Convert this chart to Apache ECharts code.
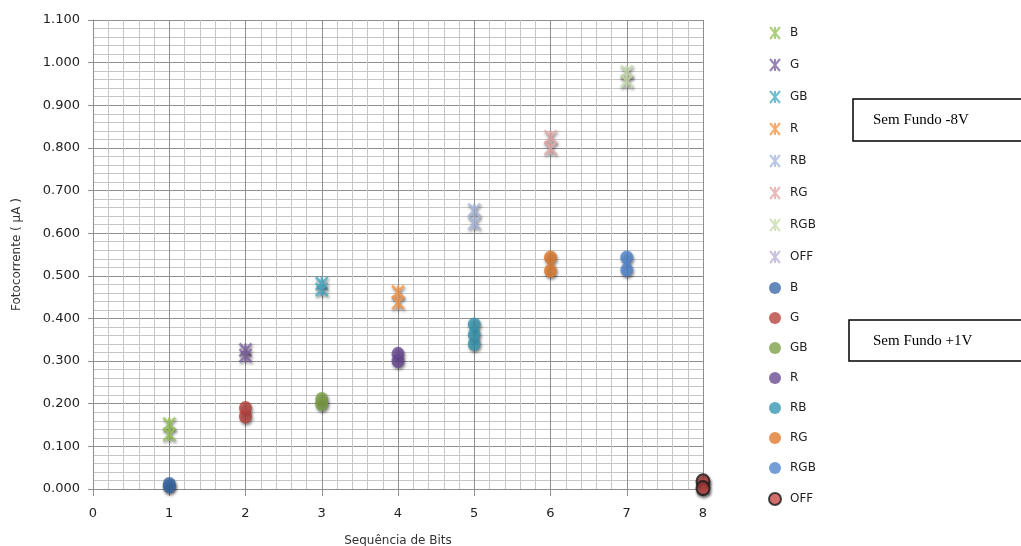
<!DOCTYPE html>
<html>
<head>
<meta charset="utf-8">
<script src="https://cdn.jsdelivr.net/npm/echarts@6/dist/echarts.min.js"></script>
<style>html,body{margin:0;padding:0;background:#fff}#c{width:1021px;height:546px}</style>
</head>
<body>
<div id="c"></div>
<script>
// ---- data ----
const categories = ['B', 'G', 'GB', 'R', 'RB', 'RG', 'RGB', 'OFF'];
const bitPositions = [1, 2, 3, 4, 5, 6, 7, 8];
const xTicks = [0, 1, 2, 3, 4, 5, 6, 7, 8];
const yTicks = [0, 0.1, 0.2, 0.3, 0.4, 0.5, 0.6, 0.7, 0.8, 0.9, 1.0, 1.1];
// "Sem Fundo -8V" (star markers), repeated readings per bit sequence
const minus8V = [
  [0.152, 0.128],
  [0.326, 0.313],
  [0.482, 0.468],
  [0.462, 0.437],
  [0.654, 0.624],
  [0.826, 0.799],
  [0.978, 0.957],
  [0.005]
];
// "Sem Fundo +1V" (circle markers)
const plus1V = [
  [0.012, 0.006],
  [0.190, 0.170],
  [0.211, 0.199],
  [0.317, 0.300],
  [0.386, 0.362, 0.340],
  [0.543, 0.512],
  [0.543, 0.514],
  [0.018, 0.002]
];
const starColors = ['#95c356', '#8064a2', '#4bacc6', '#f79646', '#a9b8de', '#e3a9a8', '#c8dcae', '#bdb2d8'];
const circleColors = ['#3c6aa8', '#b8433f', '#7ea147', '#6a4b93', '#3796b0', '#e07b2c', '#4f86cf', '#c84a47'];

const starPath = 'path://M0,0L10,12M10,0L0,12M5,0L5,12';

const series = [];
categories.forEach((cat, i) => {
  series.push({
    name: cat + ' ',
    type: 'scatter',
    symbol: starPath,
    symbolSize: [12, 13],
    data: minus8V[i].map(v => [bitPositions[i], v]),
    itemStyle: {
      color: starColors[i], borderColor: starColors[i], borderWidth: 2.5,
      shadowColor: 'rgba(0,0,0,0.55)', shadowBlur: 3, shadowOffsetX: 1, shadowOffsetY: 2
    },
    z: 3
  });
});
categories.forEach((cat, i) => {
  const isOff = cat === 'OFF';
  series.push({
    name: cat,
    type: 'scatter',
    symbol: 'circle',
    symbolSize: [13, 14],
    data: plus1V[i].map(v => [bitPositions[i], v]),
    itemStyle: {
      color: circleColors[i],
      borderColor: isOff ? '#1a1a1a' : circleColors[i],
      borderWidth: isOff ? 2 : 0,
      shadowColor: 'rgba(0,0,0,0.6)', shadowBlur: 3, shadowOffsetX: 1, shadowOffsetY: 2
    },
    z: 4
  });
});

const legendNames = categories.map(c => c + ' ').concat(categories);

const chart = echarts.init(document.getElementById('c'), null, { renderer: 'canvas' });
chart.setOption({
  animation: false,
  backgroundColor: '#fff',
  grid: { left: 93, right: 318, top: 20, bottom: 57, containLabel: false, outerBoundsMode: 'none' },
  xAxis: {
    type: 'value', min: xTicks[0], max: xTicks[xTicks.length - 1], interval: 1,
    name: 'Sequência de Bits', nameLocation: 'middle', nameGap: 46,
    nameTextStyle: { fontFamily: 'DejaVu Sans', fontSize: 12, color: '#333' },
    axisLine: { show: true, lineStyle: { color: '#8e8e8e', width: 1 } },
    axisTick: { show: true, length: 7, lineStyle: { color: '#8e8e8e' } },
    axisLabel: { margin: 18, fontFamily: 'DejaVu Sans', fontSize: 13, color: '#222' },
    splitLine: { show: true, lineStyle: { color: '#8e8e8e', width: 1 } },
    minorTick: { show: false, splitNumber: 5 },
    minorSplitLine: { show: true, lineStyle: { color: '#c6c6c6', width: 1 } }
  },
  yAxis: {
    type: 'value', min: yTicks[0], max: yTicks[yTicks.length - 1], interval: 0.1,
    name: 'Fotocorrente ( µA )', nameLocation: 'middle', nameGap: 70,
    nameTextStyle: { fontFamily: 'DejaVu Sans', fontSize: 12, color: '#333' },
    axisLine: { show: true, lineStyle: { color: '#8e8e8e', width: 1 } },
    axisTick: { show: true, length: 5, lineStyle: { color: '#8e8e8e' } },
    axisLabel: { margin: 13, fontFamily: 'DejaVu Sans', fontSize: 13, color: '#222',
      formatter: v => v.toFixed(3) },
    splitLine: { show: true, lineStyle: { color: '#8e8e8e', width: 1 } },
    minorTick: { show: false, splitNumber: 5 },
    minorSplitLine: { show: true, lineStyle: { color: '#c6c6c6', width: 1 } }
  },
  legend: {
    orient: 'vertical', left: 763, top: 21,
    data: legendNames,
    itemWidth: 12, itemHeight: 12, itemGap: 18,
    formatter: n => n.trim(),
    textStyle: { fontFamily: 'DejaVu Sans', fontSize: 12, color: '#222', padding: [0, 0, 0, 4] },
    selectedMode: false
  },
  graphic: [
    { type: 'rect', shape: { x: 853, y: 99, width: 180, height: 42 },
      style: { fill: '#fff', stroke: '#000', lineWidth: 1.5 } },
    { type: 'text', x: 873, y: 120,
      style: { text: 'Sem Fundo -8V', font: '15px "Liberation Serif"', fill: '#000', verticalAlign: 'middle' } },
    { type: 'rect', shape: { x: 849, y: 320, width: 180, height: 41 },
      style: { fill: '#fff', stroke: '#000', lineWidth: 1.5 } },
    { type: 'text', x: 873, y: 341,
      style: { text: 'Sem Fundo +1V', font: '15px "Liberation Serif"', fill: '#000', verticalAlign: 'middle' } }
  ],
  series: series
});
</script>
</body>
</html>
